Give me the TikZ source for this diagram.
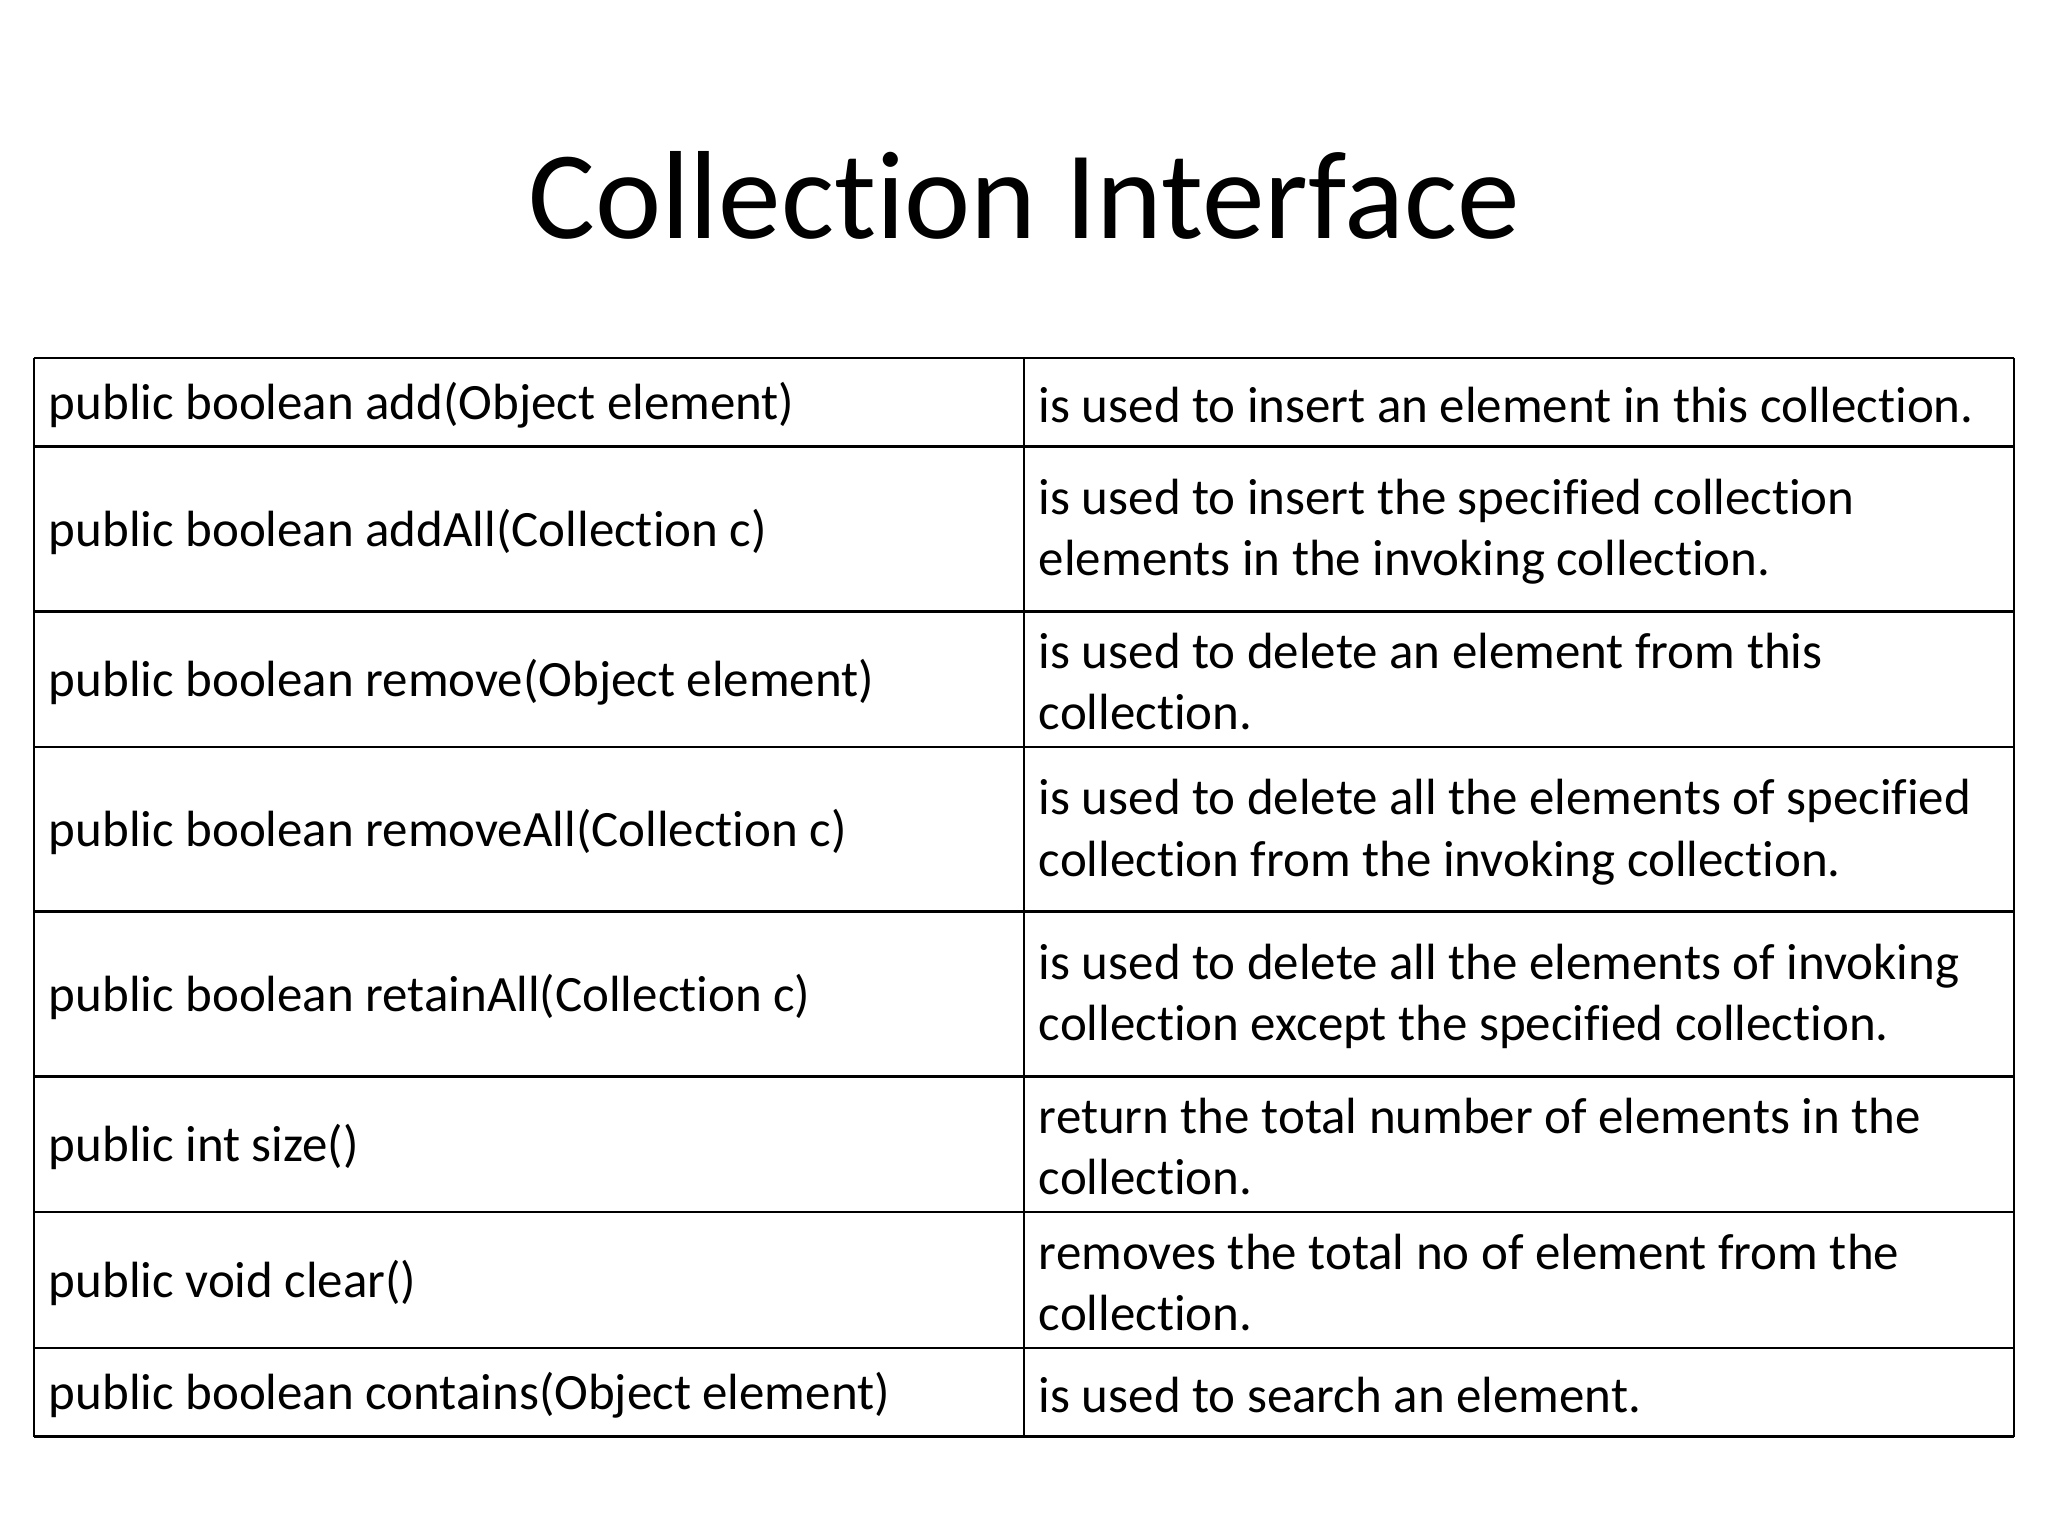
\documentclass[tikz,border=0pt]{standalone}
\usepackage{fontspec}
\setmainfont[Ligatures=NoCommon]{Carlito}
\begin{document}
\begin{tikzpicture}[x=0.5pt,y=-0.5pt,
  cell/.style={anchor=west,inner sep=0pt,font=\fontsize{19.5}{23.5}\selectfont,align=left},
  grid/.style={line width=1pt}]
\useasboundingbox (0,0) rectangle (1568,1176);
\node[font=\fontsize{48}{56}\selectfont] (title) at (784,150) {Collection Interface};
\def\ys{274,342,468,572,698,824,928,1032,1100}
\foreach \y in \ys {\draw[grid] (26,\y) -- (1542,\y);}
\draw[grid] (26,274) -- (26,1100) (784,274) -- (784,1100) (1542,274) -- (1542,1100);
\foreach \a/\b/\m/\d [count=\i] in {
274/342/{public boolean add(Object element)}/{is used to insert an element in this collection.},
342/468/{public boolean addAll(Collection c)}/{is used to insert the specified collection\\elements in the invoking collection.},
468/572/{public boolean remove(Object element)}/{is used to delete an element from this\\collection.},
572/698/{public boolean removeAll(Collection c)}/{is used to delete all the elements of specified\\collection from the invoking collection.},
698/824/{public boolean retainAll(Collection c)}/{is used to delete all the elements of invoking\\collection except the specified collection.},
824/928/{public int size()}/{return the total number of elements in the\\collection.},
928/1032/{public void clear()}/{removes the total no of element from the\\collection.},
1032/1100/{public boolean contains(Object element)}/{is used to search an element.}}
{
  \node[cell] (m\i) at (37,{(\a+\b)/2+2}) {\m};
  \node[cell] (d\i) at (795,{(\a+\b)/2+2}) {\d};
}
\end{tikzpicture}
\end{document}
